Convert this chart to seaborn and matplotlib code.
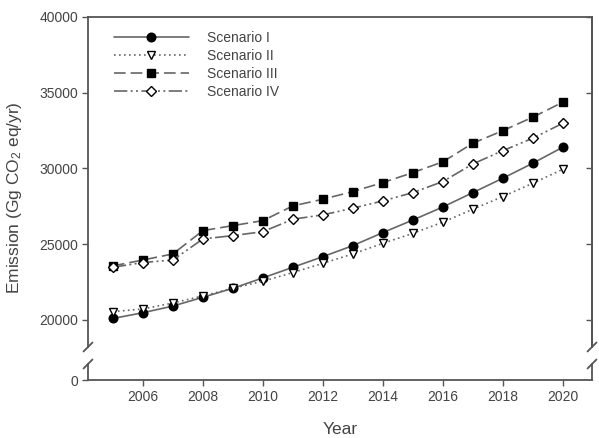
import matplotlib
matplotlib.use("Agg")
import matplotlib.pyplot as plt
import seaborn as sns
import pandas as pd

years = list(range(2005, 2021))
scenario_1 = [20100, 20480, 20920, 21500, 22090, 22780, 23480, 24180, 24910, 25770, 26600, 27460, 28410, 29360, 30350, 31410]
scenario_2 = [20550, 20730, 21120, 21590, 22100, 22560, 23130, 23740, 24360, 25060, 25720, 26460, 27310, 28150, 29030, 29950]
scenario_3 = [23570, 23960, 24360, 25900, 26230, 26560, 27530, 27970, 28480, 29070, 29730, 30440, 31670, 32500, 33390, 34380]
scenario_4 = [23480, 23790, 23960, 25350, 25570, 25830, 26650, 26940, 27380, 27860, 28410, 29140, 30300, 31180, 32000, 32990]
labels = ["Scenario I", "Scenario II", "Scenario III", "Scenario IV"]
yticks_top = [20000, 25000, 30000, 35000, 40000]
xticks = [2006, 2008, 2010, 2012, 2014, 2016, 2018, 2020]

sns.set_style("ticks")
plt.rcParams["font.family"] = ["Liberation Sans", "DejaVu Sans"]
plt.rcParams["mathtext.fontset"] = "custom"
plt.rcParams["mathtext.rm"] = "Liberation Sans"
plt.rcParams["mathtext.it"] = "Liberation Sans:italic"

W, H = 599, 438
fig = plt.figure(figsize=(W / 100, H / 100), dpi=100)

L, R = 88 / W, 592 / W
top_y0, top_y1 = 17, 347
bot_y0, bot_y1 = 364, 380
ax = fig.add_axes([L, 1 - top_y1 / H, R - L, (top_y1 - top_y0) / H])
axb = fig.add_axes([L, 1 - bot_y1 / H, R - L, (bot_y1 - bot_y0) / H], sharex=ax)

spine_c = "#555555"
line_c = "#666666"
text_c = "#444444"
styles = [
    dict(marker="o", markerfacecolor="black", linestyle="-"),
    dict(marker="v", markerfacecolor="white", linestyle=(0, (1, 2))),
    dict(marker="s", markerfacecolor="black", linestyle=(0, (7, 3))),
    dict(marker="D", markerfacecolor="white", linestyle=(0, (8, 2, 1.2, 2, 1.2, 2))),
]
msizes = [6.2, 6.2, 5.6, 5.2]
series = [scenario_1, scenario_2, scenario_3, scenario_4]
for lab, vals, st, ms in zip(labels, series, styles, msizes):
    df = pd.DataFrame({"Year": years, "Emission": vals})
    sns.lineplot(data=df, x="Year", y="Emission", ax=ax, color=line_c, linewidth=1.2,
                 markeredgecolor="black", markeredgewidth=1.0, markersize=ms,
                 label=lab, **st)

ax.set_ylim(18217, 40000)
ax.set_xlim(2004.17, 2020.97)
ax.set_yticks(yticks_top)
ax.set_yticklabels([str(v) for v in yticks_top])
axb.set_ylim(0, 1000)
axb.set_yticks([0])
axb.set_yticklabels(["0"])
axb.set_xticks(xticks)
axb.set_xticklabels([str(v) for v in xticks])

for a in (ax, axb):
    for s in a.spines.values():
        s.set_color(spine_c)
        s.set_linewidth(1.3)
    a.tick_params(axis="both", colors=spine_c, labelcolor=text_c, labelsize=10,
                  length=4, width=1.0, direction="out", pad=3)
    a.set_xlabel("")
    a.set_ylabel("")

ax.spines["bottom"].set_visible(False)
axb.spines["top"].set_visible(False)
ax.tick_params(axis="x", bottom=False, labelbottom=False)

sec = ax.secondary_yaxis("right")
sec.set_yticks(yticks_top)
sec.tick_params(direction="in", length=4, width=1.0, colors=spine_c, labelright=False)
sec.spines["right"].set_color(spine_c)
sec.spines["right"].set_linewidth(1.3)

ax.set_xlabel("")
axb.set_xlabel("Year", fontsize=12.5, color=text_c, labelpad=13)
fig.text(15 / W, 1 - 198 / H, "Emission (Gg CO$_2$ eq/yr)", rotation=90,
         ha="center", va="center", fontsize=12.5, color=text_c)

# axis break marks
dx, dy = 4.5 / W, 4.5 / H
for xf in (L, R):
    for yp in (top_y1, bot_y0):
        yf = 1 - yp / H
        fig.add_artist(plt.Line2D([xf - dx, xf + dx], [yf - dy, yf + dy],
                                  color=spine_c, linewidth=1.3, transform=fig.transFigure))

leg = ax.legend(loc="upper left", bbox_to_anchor=(0.04, 0.975), frameon=False,
                fontsize=10, handlelength=5.4, handletextpad=1.3, labelspacing=0.3,
                borderaxespad=0, labelcolor=text_c)

fig.savefig("out.png", dpi=100)
